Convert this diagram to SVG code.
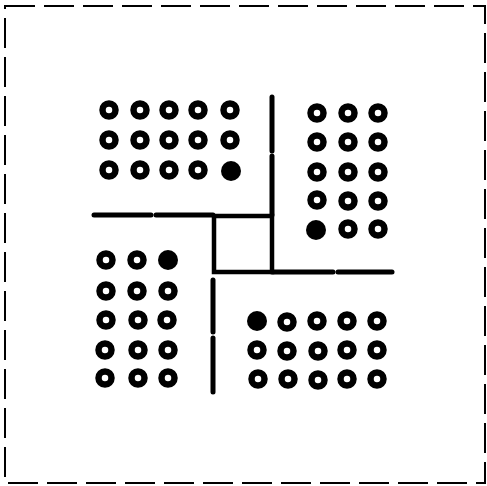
<svg xmlns="http://www.w3.org/2000/svg" width="487" height="486" viewBox="0 0 487 486">
<style>
.ring{fill:none;stroke:#000;stroke-width:6.5}
.dot{fill:#000}
.wall{stroke:#000;stroke-width:5;stroke-linecap:round;fill:none}
.border{stroke:#000;stroke-width:2;fill:none;stroke-dasharray:30 9}
</style>
<rect width="487" height="486" fill="#fff"/>
<rect id="frame" class="border" x="5" y="6" width="480" height="477"/>
<g id="connectors">
<line class="wall" x1="272" y1="97" x2="272" y2="151"/>
<line class="wall" x1="272" y1="156" x2="272" y2="215"/>
<line class="wall" x1="94" y1="215" x2="151" y2="215"/>
<line class="wall" x1="156" y1="215" x2="213" y2="215"/>
<line class="wall" x1="272" y1="272" x2="333" y2="272"/>
<line class="wall" x1="338" y1="272" x2="392" y2="272"/>
<line class="wall" x1="213" y1="280" x2="213" y2="332"/>
<line class="wall" x1="213" y1="338" x2="213" y2="392"/>
</g>
<g id="center-square"><rect x="214" y="216" width="58" height="56" fill="none" stroke="#000" stroke-width="4.5"/></g>
<g id="group-top-left">
<circle class="ring" cx="109" cy="110" r="6.5"/><circle class="ring" cx="140" cy="110" r="6.5"/><circle class="ring" cx="169" cy="110" r="6.5"/><circle class="ring" cx="198" cy="110" r="6.5"/><circle class="ring" cx="230" cy="110" r="6.5"/>
<circle class="ring" cx="109" cy="140" r="6.5"/><circle class="ring" cx="140" cy="140" r="6.5"/><circle class="ring" cx="169" cy="140" r="6.5"/><circle class="ring" cx="198" cy="140" r="6.5"/><circle class="ring" cx="230" cy="140" r="6.5"/>
<circle class="ring" cx="109" cy="170" r="6.5"/><circle class="ring" cx="140" cy="170" r="6.5"/><circle class="ring" cx="169" cy="170" r="6.5"/><circle class="ring" cx="198" cy="170" r="6.5"/><circle class="dot" cx="231" cy="171" r="10"/>
</g>
<g id="group-top-right">
<circle class="ring" cx="317" cy="113" r="6.5"/><circle class="ring" cx="348" cy="113" r="6.5"/><circle class="ring" cx="378" cy="113" r="6.5"/>
<circle class="ring" cx="317" cy="142" r="6.5"/><circle class="ring" cx="348" cy="142" r="6.5"/><circle class="ring" cx="378" cy="142" r="6.5"/>
<circle class="ring" cx="317" cy="172" r="6.5"/><circle class="ring" cx="348" cy="172" r="6.5"/><circle class="ring" cx="378" cy="172" r="6.5"/>
<circle class="ring" cx="317" cy="200" r="6.5"/><circle class="ring" cx="348" cy="201" r="6.5"/><circle class="ring" cx="378" cy="201" r="6.5"/>
<circle class="dot" cx="316" cy="230" r="10"/><circle class="ring" cx="348" cy="229" r="6.5"/><circle class="ring" cx="378" cy="229" r="6.5"/>
</g>
<g id="group-bottom-left">
<circle class="ring" cx="106" cy="260" r="6.5"/><circle class="ring" cx="137" cy="260" r="6.5"/><circle class="dot" cx="168" cy="260" r="10"/>
<circle class="ring" cx="106" cy="291" r="6.5"/><circle class="ring" cx="137" cy="291" r="6.5"/><circle class="ring" cx="168" cy="291" r="6.5"/>
<circle class="ring" cx="106" cy="320" r="6.5"/><circle class="ring" cx="138" cy="320" r="6.5"/><circle class="ring" cx="167" cy="320" r="6.5"/>
<circle class="ring" cx="105" cy="350" r="6.5"/><circle class="ring" cx="138" cy="350" r="6.5"/><circle class="ring" cx="168" cy="350" r="6.5"/>
<circle class="ring" cx="105" cy="378" r="6.5"/><circle class="ring" cx="138" cy="378" r="6.5"/><circle class="ring" cx="168" cy="378" r="6.5"/>
</g>
<g id="group-bottom-right">
<circle class="dot" cx="257" cy="321" r="10"/><circle class="ring" cx="287" cy="322" r="6.5"/><circle class="ring" cx="317" cy="321" r="6.5"/><circle class="ring" cx="347" cy="321" r="6.5"/><circle class="ring" cx="377" cy="321" r="6.5"/>
<circle class="ring" cx="257" cy="350" r="6.5"/><circle class="ring" cx="287" cy="351" r="6.5"/><circle class="ring" cx="318" cy="351" r="6.5"/><circle class="ring" cx="347" cy="350" r="6.5"/><circle class="ring" cx="377" cy="350" r="6.5"/>
<circle class="ring" cx="258" cy="379" r="6.5"/><circle class="ring" cx="288" cy="379" r="6.5"/><circle class="ring" cx="318" cy="380" r="6.5"/><circle class="ring" cx="347" cy="379" r="6.5"/><circle class="ring" cx="377" cy="379" r="6.5"/>
</g>
</svg>
